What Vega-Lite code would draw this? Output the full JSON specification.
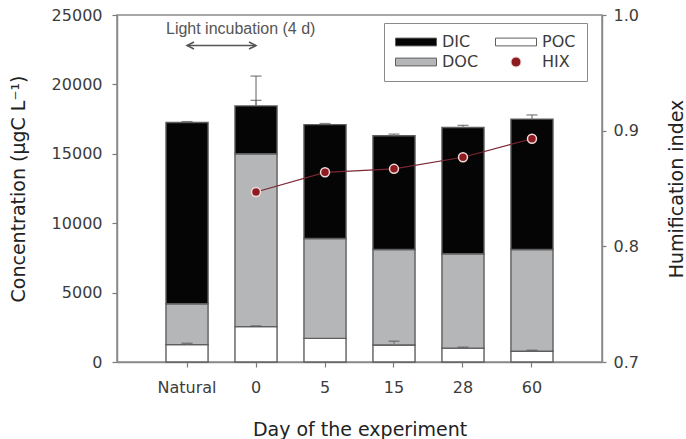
{
  "$schema": "https://vega.github.io/schema/vega-lite/v6.json",
  "width": 485,
  "height": 347,
  "autosize": {"type": "none"},
  "padding": {"left": 117, "top": 15, "right": 84, "bottom": 77},
  "background": "white",
  "config": {
    "view": {"stroke": "#8a8a8a", "strokeWidth": 1.5},
    "font": "DejaVu Sans",
    "axis": {
      "grid": false,
      "domainColor": "#8a8a8a",
      "domainWidth": 1.5,
      "tickColor": "#7a7a7a",
      "tickWidth": 1.2,
      "labelFont": "DejaVu Sans",
      "labelFontSize": 16,
      "labelColor": "#3c3c3c",
      "titleFont": "DejaVu Sans",
      "titleFontSize": 19,
      "titleFontWeight": "normal",
      "titleColor": "#222222"
    },
    "legend": {
      "labelFont": "DejaVu Sans",
      "labelFontSize": 16,
      "labelColor": "#3c3c3c"
    }
  },
  "datasets": {
    "carbon": [
      {"day": "Natural", "series": "POC", "value": 1250},
      {"day": "Natural", "series": "DOC", "value": 2950},
      {"day": "Natural", "series": "DIC", "value": 13050},
      {"day": "0", "series": "POC", "value": 2550},
      {"day": "0", "series": "DOC", "value": 12450},
      {"day": "0", "series": "DIC", "value": 3450},
      {"day": "5", "series": "POC", "value": 1700},
      {"day": "5", "series": "DOC", "value": 7200},
      {"day": "5", "series": "DIC", "value": 8200},
      {"day": "15", "series": "POC", "value": 1225},
      {"day": "15", "series": "DOC", "value": 6875},
      {"day": "15", "series": "DIC", "value": 8200},
      {"day": "28", "series": "POC", "value": 1000},
      {"day": "28", "series": "DOC", "value": 6800},
      {"day": "28", "series": "DIC", "value": 9100},
      {"day": "60", "series": "POC", "value": 770},
      {"day": "60", "series": "DOC", "value": 7330},
      {"day": "60", "series": "DIC", "value": 9400}
    ],
    "errors": [
      {"day": "Natural", "series": "POC", "top": 1250, "upper": 1350},
      {"day": "Natural", "series": "DIC", "top": 17250, "upper": 17320},
      {"day": "0", "series": "POC", "top": 2550, "upper": 2600},
      {"day": "0", "series": "DIC", "top": 18450, "upper": 20600},
      {"day": "0", "series": "DIC", "top": 18450, "upper": 18850},
      {"day": "5", "series": "DIC", "top": 17100, "upper": 17180},
      {"day": "15", "series": "POC", "top": 1225, "upper": 1500},
      {"day": "15", "series": "DIC", "top": 16300, "upper": 16420},
      {"day": "28", "series": "POC", "top": 1000, "upper": 1070},
      {"day": "28", "series": "DIC", "top": 16900, "upper": 17050},
      {"day": "60", "series": "POC", "top": 770, "upper": 850},
      {"day": "60", "series": "DIC", "top": 17500, "upper": 17800}
    ],
    "hix": [
      {"day": "0", "series": "HIX", "hix": 0.847},
      {"day": "5", "series": "HIX", "hix": 0.864},
      {"day": "15", "series": "HIX", "hix": 0.867},
      {"day": "28", "series": "HIX", "hix": 0.877},
      {"day": "60", "series": "HIX", "hix": 0.893}
    ],
    "note": [
      {"text": "Light incubation (4 d)"}
    ]
  },
  "encoding": {
    "x": {
      "field": "day",
      "type": "nominal",
      "scale": {
        "domain": ["Natural", "0", "5", "15", "28", "60"],
        "paddingInner": 0.39,
        "paddingOuter": 0.71
      },
      "axis": {
        "title": "Day of the experiment",
        "labelAngle": 0,
        "tickSize": 5,
        "labelPadding": 12,
        "titleY": 73,
        "titleBaseline": "alphabetic"
      }
    }
  },
  "layer": [
    {
      "encoding": {
        "y": {
          "type": "quantitative",
          "scale": {"domain": [0, 25000], "nice": false, "zero": true},
          "axis": {
            "title": "Concentration (μgC L⁻¹)",
            "values": [0, 5000, 10000, 15000, 20000, 25000],
            "format": "d",
            "tickSize": 5,
            "labelPadding": 10,
            "titleAngle": -90,
            "titleX": -93,
            "titleY": 173.5,
            "titleBaseline": "alphabetic",
            "titleAlign": "center"
          }
        }
      },
      "layer": [
        {
          "data": {"name": "carbon"},
          "mark": {"type": "bar", "stroke": "#5e5e5e", "strokeWidth": 1.4},
          "encoding": {
            "y": {"field": "value", "type": "quantitative", "stack": "zero"},
            "order": {"field": "series", "sort": "descending"},
            "color": {
              "field": "series",
              "type": "nominal",
              "scale": {
                "domain": ["DIC", "POC", "DOC", "HIX"],
                "range": ["#050505", "#ffffff", "#b5b6b8", "#8e1b1f"]
              },
              "legend": {
                "title": null,
                "values": ["DIC", "DOC", "POC", "HIX"],
                "orient": "none",
                "legendX": 267,
                "legendY": 8,
                "columns": 2,
                "columnPadding": 14,
                "rowPadding": 4,
                "padding": 11,
                "symbolOffset": 13,
                "labelOffset": 18,
                "strokeColor": "#8a8a8a",
                "fillColor": "#ffffff",
                "symbolStrokeWidth": 1
              }
            }
          }
        },
        {
          "data": {"name": "errors"},
          "mark": {"type": "rule", "color": "#7a7a7a", "strokeWidth": 1.2},
          "encoding": {
            "y": {"field": "top", "type": "quantitative"},
            "y2": {"field": "upper"}
          }
        },
        {
          "data": {"name": "errors"},
          "mark": {"type": "tick", "color": "#555555", "size": 11, "thickness": 1.3, "orient": "horizontal"},
          "encoding": {
            "y": {"field": "upper", "type": "quantitative"}
          }
        },
        {
          "data": {"name": "note"},
          "mark": {"type": "rule", "color": "#555555", "strokeWidth": 1.5},
          "encoding": {
            "x": {"datum": "Natural"},
            "x2": {"datum": "0"},
            "y": {"datum": 22800}
          }
        },
        {
          "data": {"name": "note"},
          "mark": {"type": "point", "shape": "M2,-1L0,0L2,1", "size": 49, "filled": false, "color": "#555555", "strokeWidth": 1.5, "opacity": 1},
          "encoding": {
            "x": {"datum": "Natural"},
            "y": {"datum": 22800}
          }
        },
        {
          "data": {"name": "note"},
          "mark": {"type": "point", "shape": "M-2,-1L0,0L-2,1", "size": 49, "filled": false, "color": "#555555", "strokeWidth": 1.5, "opacity": 1},
          "encoding": {
            "x": {"datum": "0"},
            "y": {"datum": 22800}
          }
        },
        {
          "data": {"name": "note"},
          "mark": {"type": "text", "font": "Liberation Sans", "fontSize": 16, "color": "#555555", "align": "left", "baseline": "alphabetic"},
          "encoding": {
            "x": {"datum": "Natural", "bandPosition": 0},
            "y": {"datum": 23650},
            "text": {"field": "text"}
          }
        }
      ]
    },
    {
      "data": {"name": "hix"},
      "encoding": {
        "y": {
          "field": "hix",
          "type": "quantitative",
          "scale": {"domain": [0.7, 1.0], "nice": false, "zero": false},
          "axis": {
            "orient": "right",
            "title": "Humification index",
            "values": [0.7, 0.8, 0.9, 1.0],
            "format": ".1f",
            "tickSize": 4,
            "labelPadding": 7,
            "titleAngle": -90,
            "titleX": 80,
            "titleY": 173.5,
            "titleBaseline": "alphabetic",
            "titleAlign": "center"
          }
        }
      },
      "layer": [
        {
          "mark": {"type": "line", "color": "#7b2633", "strokeWidth": 1.2}
        },
        {
          "mark": {"type": "point", "filled": true, "opacity": 1, "strokeWidth": 1.5, "size": 80},
          "encoding": {
            "color": {
              "field": "series",
              "type": "nominal",
              "scale": {
                "domain": ["DIC", "POC", "DOC", "HIX"],
                "range": ["#050505", "#ffffff", "#b5b6b8", "#8e1b1f"]
              }
            },
            "shape": {
              "field": "series",
              "type": "nominal",
              "scale": {
                "domain": ["DIC", "POC", "DOC", "HIX"],
                "range": ["M-4.1,-0.78H4.1V0.78H-4.1Z", "M-4.1,-0.78H4.1V0.78H-4.1Z", "M-4.1,-0.78H4.1V0.78H-4.1Z", "circle"]
              }
            },
            "stroke": {
              "field": "series",
              "type": "nominal",
              "scale": {
                "domain": ["DIC", "POC", "DOC", "HIX"],
                "range": ["#5e5e5e", "#5e5e5e", "#5e5e5e", "#f0dada"]
              }
            }
          }
        }
      ]
    }
  ],
  "resolve": {"scale": {"y": "independent"}}
}
